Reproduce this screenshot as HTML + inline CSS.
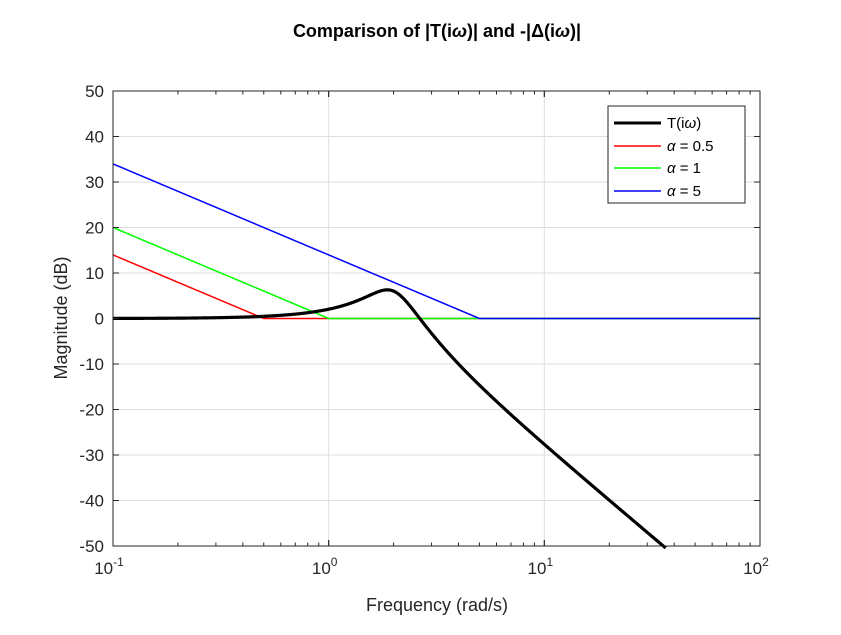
<!DOCTYPE html>
<html><head><meta charset="utf-8"><style>
body{margin:0;background:#fff}
svg text{font-family:"Liberation Sans",sans-serif}
</style></head><body>
<svg id="s" width="841" height="630" xmlns="http://www.w3.org/2000/svg">
<rect width="841" height="630" fill="#fff"/>
<g id="grid" stroke="#dedede" stroke-width="1"></g>
<g id="series" fill="none"></g>
<rect x="113" y="91" width="647" height="455" fill="none" stroke="#262626" stroke-width="1"/>
<g id="ticks" stroke="#262626" stroke-width="1"></g>
<g id="labels" font-size="17" fill="#262626"></g>
<text x="437" y="37" font-size="18" font-weight="bold" text-anchor="middle" fill="#000">Comparison of |T(i<tspan font-style="italic">ω</tspan>)| and -|Δ(i<tspan font-style="italic">ω</tspan>)|</text>
<text x="437" y="611" font-size="18" text-anchor="middle" fill="#262626">Frequency (rad/s)</text>
<text transform="translate(67,318) rotate(-90)" font-size="18" text-anchor="middle" fill="#262626">Magnitude (dB)</text>
<g>
<rect x="608" y="106" width="137" height="97" fill="#fff" stroke="#262626" stroke-width="1"/>
<line x1="614" y1="123" x2="661" y2="123" stroke="#000" stroke-width="3"/>
<line x1="614" y1="146" x2="661" y2="146" stroke="#f00" stroke-width="1.5"/>
<line x1="614" y1="168" x2="661" y2="168" stroke="#0f0" stroke-width="1.5"/>
<line x1="614" y1="191" x2="661" y2="191" stroke="#00f" stroke-width="1.5"/>
<g font-size="15" fill="#000">
<text x="667" y="128">T(i<tspan font-style="italic">ω</tspan>)</text>
<text x="667" y="151"><tspan font-style="italic">α</tspan> = 0.5</text>
<text x="667" y="173"><tspan font-style="italic">α</tspan> = 1</text>
<text x="667" y="196"><tspan font-style="italic">α</tspan> = 5</text>
</g>
</g>
</svg>
<script>
const L=113,R=760,T=91,B=546;
const X=w=>L+(Math.log10(w)+1)/3*(R-L);
const Y=d=>T+(50-d)/100*(B-T);
const ns="http://www.w3.org/2000/svg";
function el(p,t,a,txt){const e=document.createElementNS(ns,t);for(const k in a)e.setAttribute(k,a[k]);if(txt!=null)e.innerHTML=txt;document.getElementById(p).appendChild(e);return e;}
for(let d=-1;d<=2;d++){const x=X(Math.pow(10,d));el("grid","line",{x1:x,x2:x,y1:T,y2:B});}
for(let v=-40;v<=40;v+=10){const y=Y(v);el("grid","line",{x1:L,x2:R,y1:y,y2:y});}
for(let d=-1;d<2;d++)for(let k=1;k<=10;k++){const x=X(k*Math.pow(10,d));const len=k==1||k==10?6:3.5;
el("ticks","line",{x1:x,x2:x,y1:B,y2:B-len});el("ticks","line",{x1:x,x2:x,y1:T,y2:T+len});}
for(let v=-50;v<=50;v+=10){const y=Y(v);el("ticks","line",{x1:L,x2:L+6,y1:y,y2:y});el("ticks","line",{x1:R,x2:R-6,y1:y,y2:y});
el("labels","text",{x:104,y:y+6,"text-anchor":"end"},String(v));}
[-1,0,1,2].forEach(d=>{const x=X(Math.pow(10,d));el("labels","text",{x:x-4,y:574,"text-anchor":"middle"},'10<tspan font-size="12" dy="-8">'+d+'</tspan>');});
function line(a,c){const x1=X(0.1),y1=Y(20*Math.log10(a/0.1));
el("series","path",{d:`M${x1},${y1}L${X(a)},${Y(0)}L${R},${Y(0)}`,stroke:c,"stroke-width":1.5});}
line(0.5,"#f00");line(1,"#0f0");line(5,"#00f");
let p="";const wn=2,z=0.25;
for(let i=0;i<=1200;i++){const w=Math.pow(10,-1+3*i/1200);const re=wn*wn-w*w,im=2*z*wn*w;
const db=20*Math.log10(wn*wn/Math.hypot(re,im));if(db<-50.5)break;p+=(i?"L":"M")+X(w).toFixed(2)+","+Y(db).toFixed(2);}
el("series","path",{d:p,stroke:"#000","stroke-width":3.2});
</script>
</body></html>
